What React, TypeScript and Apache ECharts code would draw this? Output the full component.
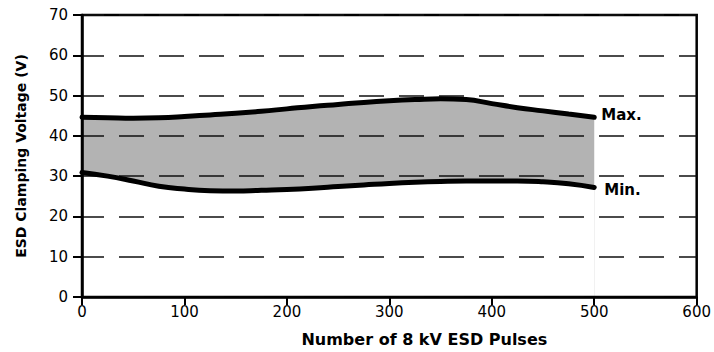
import React, { useEffect, useRef } from "react";
import * as echarts from "echarts";

const pulses = [0, 25, 50, 75, 100, 125, 150, 175, 200, 225, 250, 275, 300, 325, 350, 375, 400, 425, 450, 475, 500];
const maxVoltage = [44.6, 44.5, 44.4, 44.5, 44.8, 45.2, 45.6, 46.1, 46.7, 47.3, 47.8, 48.3, 48.7, 49.0, 49.2, 49.0, 48.0, 47.0, 46.2, 45.4, 44.6];
const minVoltage = [30.9, 30.0, 28.8, 27.5, 26.8, 26.4, 26.3, 26.5, 26.7, 27.0, 27.4, 27.8, 28.2, 28.5, 28.7, 28.8, 28.8, 28.8, 28.6, 28.1, 27.2];
const xTicks = [0, 100, 200, 300, 400, 500, 600];
const yTicks = [0, 10, 20, 30, 40, 50, 60, 70];

const FONT = "DejaVu Sans";

export default function App() {
  const ref = useRef<HTMLDivElement>(null);
  useEffect(() => {
    if (!ref.current) return;
    const chart = echarts.init(ref.current, undefined, { renderer: "svg" });
    const minPts = pulses.map((x, i) => [x, minVoltage[i]]);
    const maxPts = pulses.map((x, i) => [x, maxVoltage[i]]);
    chart.setOption({
      animation: false,
      backgroundColor: "#ffffff",
      grid: {
        left: 82,
        right: 16,
        top: 15,
        bottom: 54,
        show: true,
        borderColor: "#000",
        borderWidth: 2.5,
        backgroundColor: "transparent",
      },
      xAxis: {
        type: "value",
        min: xTicks[0],
        max: xTicks[xTicks.length - 1],
        interval: 100,
        name: "Number of 8 kV ESD Pulses",
        nameLocation: "middle",
        nameGap: 34,
        nameTextStyle: {
          fontFamily: FONT,
          fontWeight: "bold",
          fontSize: 16,
          color: "#000",
          padding: [0, 0, 0, 70],
        },
        axisLine: { show: true, lineStyle: { color: "#000", width: 2.5 } },
        axisTick: { show: true, length: 8, lineStyle: { color: "#000", width: 2 } },
        axisLabel: { fontFamily: FONT, fontSize: 15, color: "#000", margin: 7 },
        splitLine: { show: false },
      },
      yAxis: {
        type: "value",
        min: yTicks[0],
        max: yTicks[yTicks.length - 1],
        interval: 10,
        name: "ESD Clamping Voltage (V)",
        nameLocation: "middle",
        nameGap: 54,
        nameTextStyle: {
          fontFamily: FONT,
          fontWeight: "bold",
          fontSize: 14,
          color: "#000",
        },
        axisLine: { show: true, lineStyle: { color: "#000", width: 2.5 } },
        axisTick: { show: true, length: 9, lineStyle: { color: "#000", width: 2 } },
        axisLabel: { fontFamily: FONT, fontSize: 15, color: "#000", margin: 14 },
        splitLine: {
          show: true,
          lineStyle: { color: "#111", width: 1.5, type: [25, 15], dashOffset: 3 },
        },
      },
      series: [
        {
          type: "line",
          name: "bandTop",
          data: maxPts,
          smooth: true,
          symbol: "none",
          lineStyle: { opacity: 0 },
          areaStyle: { color: "#b3b3b3", opacity: 1, origin: "start" },
          silent: true,
          z: -2,
        },
        {
          type: "line",
          name: "bandBottom",
          data: minPts,
          smooth: true,
          symbol: "none",
          lineStyle: { opacity: 0 },
          areaStyle: { color: "#ffffff", opacity: 1, origin: "start" },
          silent: true,
          z: -1,
        },
        {
          type: "line",
          name: "Max.",
          data: maxPts,
          smooth: true,
          symbol: "none",
          lineStyle: { color: "#000", width: 5, cap: "round" },
          endLabel: {
            show: true,
            formatter: "Max.",
            fontFamily: FONT,
            fontWeight: "bold",
            fontSize: 15,
            color: "#000",
            distance: 7,
            offset: [0, -2],
          },
          z: 3,
        },
        {
          type: "line",
          name: "Min.",
          data: minPts,
          smooth: true,
          symbol: "none",
          lineStyle: { color: "#000", width: 5, cap: "round" },
          endLabel: {
            show: true,
            formatter: "Min.",
            fontFamily: FONT,
            fontWeight: "bold",
            fontSize: 15,
            color: "#000",
            distance: 10,
            offset: [0, 3],
          },
          z: 3,
        },
      ],
    });
    return () => chart.dispose();
  }, []);
  return (
    <div
      ref={ref}
      style={{ position: "fixed", left: 0, top: 0, width: 714, height: 352, background: "#fff" }}
    />
  );
}
